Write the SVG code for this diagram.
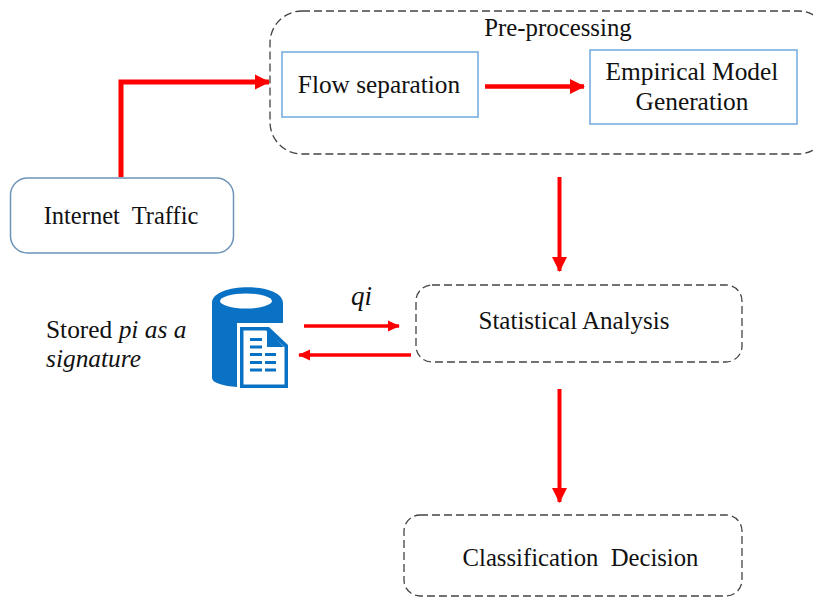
<svg xmlns="http://www.w3.org/2000/svg" width="813" height="597" viewBox="0 0 813 597">
<style>
text{font-family:"Liberation Serif","Times New Roman",serif;font-size:25px;fill:#111}
.m{text-anchor:middle}
.d{fill:#fff;stroke:#444;stroke-width:1.3;stroke-dasharray:8 4}
.b{fill:#fff;stroke:#6fa8dc;stroke-width:1.5}
.c{fill:none;stroke:#f00}
.db{fill:#0a72c4}
</style>
<defs>
<marker id="a" markerUnits="userSpaceOnUse" markerWidth="15" markerHeight="16" refX="14" refY="8" orient="auto"><path d="M0 0.500L15 8L0 15.500Z" fill="#f00"/></marker>
<marker id="s" markerUnits="userSpaceOnUse" markerWidth="12" markerHeight="12" refX="11" refY="6" orient="auto"><path d="M0 0.500L12 6L0 11.500Z" fill="#f00"/></marker>
</defs>
<g id="preprocessing"><rect class="d" x="270" y="11" width="560" height="143" rx="32"/><text class="m" x="558" y="36" style="font-size:24.800px">Pre-processing</text></g>
<g id="flow-separation"><rect class="b" x="282" y="52" width="196" height="65"/><text class="m" x="379" y="93" style="font-size:25.300px">Flow separation</text></g>
<g id="empirical-model"><rect class="b" x="590" y="50" width="207" height="74"/><text class="m" x="692" y="80" style="font-size:25.400px">Empirical Model</text><text class="m" x="692" y="110" style="font-size:25.400px">Generation</text></g>
<g id="internet-traffic"><rect x="10.500" y="178" width="223" height="75" rx="17" fill="#fff" stroke="#6e94b8" stroke-width="1.5"/><text class="m" x="121" y="224" xml:space="preserve" style="font-size:24.500px">Internet  Traffic</text></g>
<g id="statistical-analysis"><rect class="d" x="416" y="285" width="326" height="77" rx="16"/><text class="m" x="574" y="329">Statistical Analysis</text></g>
<g id="classification-decision"><rect class="d" x="404" y="515" width="338" height="81" rx="16"/><text class="m" x="580.500" y="566" xml:space="preserve" style="font-size:24.700px">Classification  Decision</text></g>
<g id="database">
<path class="db" d="M212 303C212 282 283 282 283 303V323H237V387C224 386 212 383 212 378Z"/>
<ellipse cx="246" cy="301" rx="26" ry="7.500" fill="#fff"/>
<path d="M240 327H269L288 345V388H240Z" class="db"/>
<path d="M243.500 330.500H266L284.500 347V384.500H243.500Z" fill="#fff"/>
<path d="M267 330V347H284Z" class="db"/>
<path class="db" d="M250 338h12v3h-12zM250 345.500h12v3h-12zM250 353h12v3h-12zM265 353h11v3h-11zM250 361h12v3h-12zM265 361h11v3h-11zM250 368.500h12v3h-12zM265 368.500h11v3h-11z"/>
</g>
<g id="signature-label"><text x="46" y="338" style="font-size:25.400px">Stored <tspan font-style="italic">pi as a</tspan></text><text x="46" y="367" font-style="italic" style="font-size:25.400px">signature</text></g>
<g id="qi-label"><text x="351" y="305" font-style="italic" style="font-size:27px">qi</text></g>
<g id="connectors">
<path class="c" stroke-width="5" marker-end="url(#a)" d="M121 177V82H269"/>
<path class="c" stroke-width="4.500" marker-end="url(#a)" d="M485 86.500H584"/>
<path class="c" stroke-width="4" marker-end="url(#a)" d="M559.500 177V271"/>
<path class="c" stroke-width="3.500" marker-end="url(#s)" d="M304 326H399"/>
<path class="c" stroke-width="3.500" marker-end="url(#s)" d="M411 355H299"/>
<path class="c" stroke-width="4" marker-end="url(#a)" d="M559.500 389V502"/>
</g>
</svg>
